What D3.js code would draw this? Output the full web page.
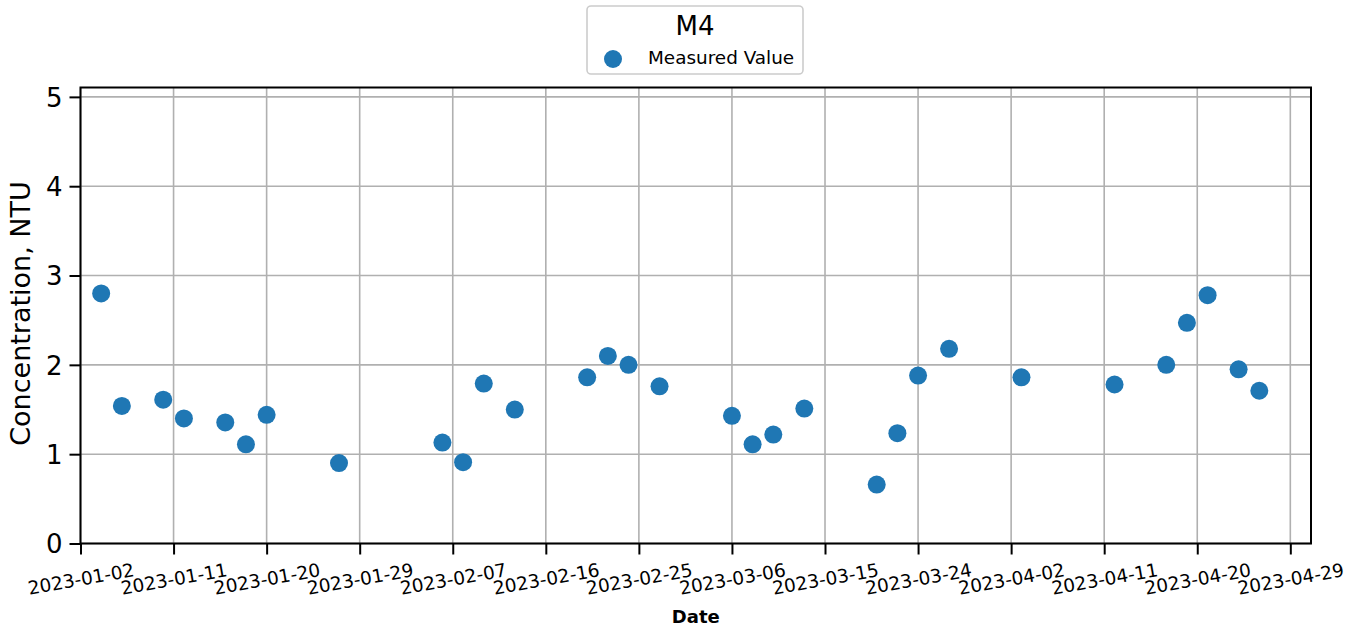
<!DOCTYPE html>
<html>
<head>
<meta charset="utf-8">
<script src="https://cdn.jsdelivr.net/npm/d3@7"></script>
<style>
  html, body { margin: 0; padding: 0; background: #fff; }
  svg { display: block; font-family: "DejaVu Sans", sans-serif; }
</style>
</head>
<body>
<svg id="chart" width="1360" height="631"></svg>
<script>
// ---- data ----
const dates = ["2023-01-04","2023-01-06","2023-01-10","2023-01-12","2023-01-16","2023-01-18","2023-01-20",
  "2023-01-27","2023-02-06","2023-02-08","2023-02-10","2023-02-13","2023-02-20","2023-02-22","2023-02-24",
  "2023-02-27","2023-03-06","2023-03-08","2023-03-10","2023-03-13","2023-03-20","2023-03-22","2023-03-24",
  "2023-03-27","2023-04-03","2023-04-12","2023-04-17","2023-04-19","2023-04-21","2023-04-24","2023-04-26"];
const values = [2.80, 1.54, 1.61, 1.40, 1.355, 1.11, 1.44,
  0.90, 1.13, 0.91, 1.79, 1.50, 1.86, 2.10, 2.00,
  1.76, 1.43, 1.11, 1.22, 1.51, 0.66, 1.235, 1.88,
  2.18, 1.86, 1.78, 2.00, 2.47, 2.78, 1.95, 1.71];
const xTickLabels = ["2023-01-02","2023-01-11","2023-01-20","2023-01-29","2023-02-07","2023-02-16","2023-02-25",
  "2023-03-06","2023-03-15","2023-03-24","2023-04-02","2023-04-11","2023-04-20","2023-04-29"];
const yTicks = [0, 1, 2, 3, 4, 5];
const xDomain = ["2023-01-02", "2023-05-01"];
const yDomain = [0, 5.105];
const seriesName = "Measured Value";
const legendTitle = "M4";
const xLabel = "Date";
const yLabel = "Concentration, NTU";

// ---- layout ----
const parse = d3.utcParse("%Y-%m-%d");
const plot = { left: 80.5, right: 1311, top: 87.5, bottom: 543.5 };
const color = "#1f77b4";

const svg = d3.select("#chart");
const x = d3.scaleUtc().domain(xDomain.map(parse)).range([plot.left, plot.right]);
const y = d3.scaleLinear().domain(yDomain).range([plot.bottom, plot.top]);
const xTicks = xTickLabels.map(parse);

// grid
const grid = svg.append("g");
grid.selectAll("line.gx").data(xTicks).join("line")
  .attr("x1", d => x(d)).attr("x2", d => x(d))
  .attr("y1", plot.top).attr("y2", plot.bottom)
  .attr("stroke", "#b0b0b0").attr("stroke-width", 1.6);
grid.selectAll("line.gy").data(yTicks).join("line")
  .attr("x1", plot.left).attr("x2", plot.right)
  .attr("y1", d => y(d)).attr("y2", d => y(d))
  .attr("stroke", "#b0b0b0").attr("stroke-width", 1.6);

// points
svg.append("g").selectAll("circle").data(dates.map((d, i) => ({ d: parse(d), v: values[i] })))
  .join("circle")
  .attr("cx", p => x(p.d)).attr("cy", p => y(p.v)).attr("r", 9)
  .attr("fill", color);

// spines
svg.append("rect")
  .attr("x", plot.left).attr("y", plot.top)
  .attr("width", plot.right - plot.left).attr("height", plot.bottom - plot.top)
  .attr("fill", "none").attr("stroke", "#000").attr("stroke-width", 2);

// x axis
const xAxis = d3.axisBottom(x).tickValues(xTicks).tickSize(11).tickFormat(d3.utcFormat("%Y-%m-%d"));
const gx = svg.append("g").attr("transform", `translate(0,${plot.bottom})`).call(xAxis);
gx.select(".domain").remove();
gx.selectAll(".tick line").attr("stroke", "#000").attr("stroke-width", 2);
gx.selectAll(".tick text")
  .attr("font-size", 18.5).attr("fill", "#000")
  .attr("font-family", "DejaVu Sans, sans-serif")
  .attr("text-anchor", "middle")
  .attr("y", 0).attr("dy", "0.35em")
  .attr("transform", "translate(0,35.5) rotate(-10)");

// y axis
const yAxis = d3.axisLeft(y).tickValues(yTicks).tickSize(11).tickFormat(d3.format("d"));
const gy = svg.append("g").attr("transform", `translate(${plot.left},0)`).call(yAxis);
gy.select(".domain").remove();
gy.selectAll(".tick line").attr("stroke", "#000").attr("stroke-width", 2);
gy.selectAll(".tick text")
  .attr("font-size", 26).attr("fill", "#000")
  .attr("font-family", "DejaVu Sans, sans-serif")
  .attr("x", -18).attr("dy", "0.36em");

// axis labels
svg.append("text")
  .attr("x", (plot.left + plot.right) / 2).attr("y", 623)
  .attr("text-anchor", "middle").attr("font-size", 18).attr("font-weight", "bold")
  .text(xLabel);
svg.append("text")
  .attr("transform", `translate(30,${(plot.top + plot.bottom) / 2 - 2}) rotate(-90)`)
  .attr("text-anchor", "middle").attr("font-size", 27)
  .text(yLabel);

// legend
const lg = svg.append("g");
lg.append("rect")
  .attr("x", 587).attr("y", 6).attr("width", 216).attr("height", 68).attr("rx", 4)
  .attr("fill", "#fff").attr("fill-opacity", 0.8)
  .attr("stroke", "#cccccc").attr("stroke-width", 1.6);
lg.append("text")
  .attr("x", 695).attr("y", 35).attr("text-anchor", "middle").attr("font-size", 26)
  .text(legendTitle);
lg.append("circle").attr("cx", 613).attr("cy", 59).attr("r", 9).attr("fill", color);
lg.append("text")
  .attr("x", 648).attr("y", 64).attr("font-size", 18.4)
  .text(seriesName);
</script>
</body>
</html>
